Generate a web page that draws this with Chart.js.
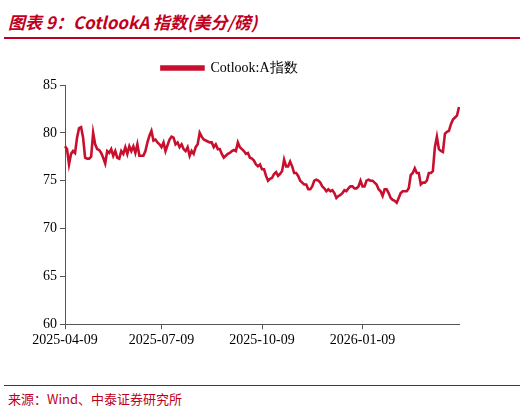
<!DOCTYPE html>
<html>
<head>
<meta charset="utf-8">
<script src="https://cdn.jsdelivr.net/npm/chart.js@4"></script>
<style>
  body { margin: 0; background: #fff; width: 524px; height: 411px; position: relative; overflow: hidden; }
  #title { position: absolute; left: 8px; top: 9px; color: #c00020; font: italic bold 17px "Noto Sans CJK SC", sans-serif; }
  #topline { position: absolute; left: 4px; right: 4px; top: 37px; border-top: 2px solid #c00020; }
  #botline { position: absolute; left: 4px; right: 4px; top: 385px; border-top: 1px solid #c00020; }
  #source { position: absolute; left: 8px; top: 389px; color: #c00020; font: 13px "Noto Sans CJK SC", sans-serif; }
  #wrap { position: absolute; left: 0; top: 45px; width: 524px; height: 307px; }
</style>
</head>
<body>
<div id="title">图表 9：CotlookA 指数(美分/磅)</div>
<div id="topline"></div>
<div id="wrap"><canvas id="myChart"></canvas></div>
<div id="botline"></div>
<div id="source">来源：Wind、中泰证券研究所</div>
<script>
// CotlookA index, cents/lb
const cotlook = [
  78.6, 78.3, 76.7, 77.8, 78.1, 77.9, 79.5, 80.5, 80.6, 79.5, 77.4, 77.3, 77.3, 77.5, 80.0, 78.8,
  78.3, 78.2, 77.9, 77.4, 76.8, 78.1, 77.9, 78.3, 77.6, 78.1, 77.4, 77.3, 78.1, 77.8, 78.5, 77.8,
  78.6, 78.1, 78.6, 77.9, 78.8, 77.6, 77.6, 77.6, 78.1, 79.0, 79.7, 80.2, 79.2, 79.3, 79.0, 78.8,
  78.5, 79.0, 78.1, 78.7, 79.3, 79.6, 79.5, 78.8, 79.0, 78.5, 78.8, 78.3, 78.1, 78.5, 77.6, 78.1,
  77.8, 78.5, 78.8, 80.0, 79.6, 79.3, 79.2, 79.1, 79.0, 79.0, 78.5, 78.8, 78.3, 78.3, 77.8, 77.4,
  77.6, 77.8, 77.9, 78.1, 78.2, 78.1, 79.0, 78.5, 78.3, 78.1, 77.8, 77.9, 77.4, 77.3, 77.1, 76.7,
  76.5, 76.7, 76.2, 76.2, 75.5, 75.0,
  75.2, 75.3, 75.7, 75.9, 75.5, 75.7, 76.0, 77.2, 76.5, 76.5, 77.0, 76.5, 75.8, 75.8, 75.5, 75.0,
  74.8, 74.6, 74.6, 74.1, 74.1, 74.4, 75.0, 75.1, 75.0, 74.8, 74.4, 74.2, 73.9, 74.1, 73.9, 74.0,
  73.7, 73.2, 73.4, 73.5, 73.7, 74.0, 73.9, 74.2, 74.4, 74.4, 74.2, 74.2, 74.4, 75.0, 74.4, 74.4,
  75.0, 75.1, 75.0, 75.0, 74.8, 74.6, 74.1, 73.9, 73.4, 74.1, 74.1, 73.7, 73.2, 73.0, 72.9, 72.7,
  73.2, 73.7, 73.9, 73.9, 73.9, 74.2, 75.6, 75.8, 76.3, 75.8, 75.8, 74.6, 74.8, 74.8, 75.0, 75.8,
  75.8, 76.0, 78.5, 79.6, 78.3, 78.1, 78.0, 79.9, 80.1, 80.2, 80.9, 81.4, 81.6, 81.8, 82.7
];
const tickDates = ['2025-04-09', '2025-07-09', '2025-10-09', '2026-01-09'];
const tickIndex = [0, 48, 98, 148];

const labels = cotlook.map(() => '');
tickIndex.forEach((i, k) => { labels[i] = tickDates[k]; });

const serif = '"Liberation Serif", "Times New Roman", serif';
const ctx = document.getElementById('myChart').getContext('2d');
const myChart = new Chart(ctx, {
    type: 'line',
    data: {
        labels: labels,
        datasets: [{
            label: 'Cotlook:A指数',
            data: cotlook,
            borderColor: '#c8102e',
            backgroundColor: '#c8102e',
            borderWidth: 2.6,
            pointRadius: 0,
            tension: 0
        }]
    },
    options: {
        responsive: true,
        maintainAspectRatio: false,
        animation: false,
        layout: { padding: { left: 0, right: 65, top: 0, bottom: 0 } },
        plugins: {
            legend: {
                labels: {
                    font: { family: serif, size: 14 },
                    color: '#000',
                    boxWidth: 42,
                    boxHeight: 3,
                    padding: 16
                }
            },
            tooltip: { enabled: false }
        },
        scales: {
            x: {
                afterBuildTicks: (scale) => {
                    scale.ticks = scale.ticks.filter(t => labels[t.value] !== '');
                },
                ticks: {
                    autoSkip: false,
                    maxRotation: 0,
                    font: { family: serif, size: 14 },
                    color: '#000',
                    callback: (v) => labels[v]
                },
                grid: { drawOnChartArea: false, color: '#555', tickLength: 5 },
                border: { color: '#555' }
            },
            y: {
                min: 60,
                max: 85,
                afterFit: (scale) => { scale.width = 65; },
                ticks: {
                    stepSize: 5,
                    font: { family: serif, size: 14 },
                    color: '#000'
                },
                grid: { drawOnChartArea: false, color: '#555', tickLength: 5 },
                border: { color: '#555' }
            }
        }
    }
});
</script>
</body>
</html>
